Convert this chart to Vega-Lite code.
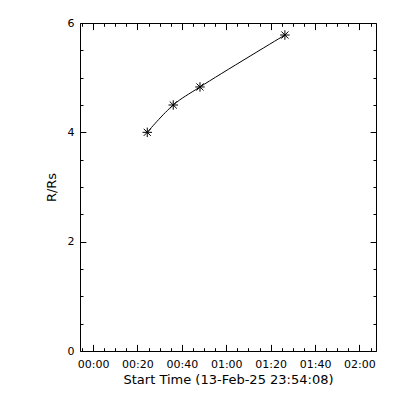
{
  "$schema": "https://vega.github.io/schema/vega-lite/v6.json",
  "width": 296,
  "height": 328,
  "autosize": "none",
  "padding": {"left": 80, "top": 23, "right": 24, "bottom": 49},
  "background": "white",
  "config": {
    "view": {"stroke": null},
    "axis": {
      "domainColor": "black", "tickColor": "black", "labelColor": "black", "titleColor": "black",
      "labelFont": "DejaVu Sans", "titleFont": "DejaVu Sans", "labelFontSize": 11, "titleFontSize": 13,
      "titleFontWeight": "normal", "grid": false, "domainWidth": 1, "tickWidth": 1, "labelOverlap": false, "labelFlush": false
    }
  },
  "data": {"values": [
    {"time": "2025-02-14T00:24:26Z", "r": 4.0},
    {"time": "2025-02-14T00:36:08Z", "r": 4.5},
    {"time": "2025-02-14T00:48:11Z", "r": 4.83},
    {"time": "2025-02-14T01:26:26Z", "r": 5.78}
  ]},
  "layer": [
    {
      "mark": {"type": "line", "interpolate": "catmull-rom", "color": "black", "strokeWidth": 1},
      "encoding": {
        "x": {"field": "time", "type": "temporal",
          "scale": {"type": "utc", "domain": [1739490848000, 1739498848000], "nice": false},
          "axis": {"orient": "bottom", "title": "Start Time (13-Feb-25 23:54:08)",
            "values": [1739490900000,1739491200000,1739491500000,1739491800000,1739492100000,1739492400000,1739492700000,1739493000000,1739493300000,1739493600000,1739493900000,1739494200000,1739494500000,1739494800000,1739495100000,1739495400000,1739495700000,1739496000000,1739496300000,1739496600000,1739496900000,1739497200000,1739497500000,1739497800000,1739498100000,1739498400000,1739498700000],
            "tickSize": {"condition": {"test": "utcminutes(datum.value) % 20 === 0", "value": -6.6}, "value": -3.3},
            "labelExpr": "utcminutes(datum.value) % 20 === 0 ? utcFormat(datum.value, '%H:%M') : ''",
            "labelPadding": 14, "titlePadding": 1}},
        "y": {"field": "r", "type": "quantitative",
          "scale": {"domain": [0, 6], "nice": false, "zero": true},
          "axis": {"orient": "left", "title": "R/Rs",
            "values": [0,0.5,1,1.5,2,2.5,3,3.5,4,4.5,5,5.5,6],
            "tickSize": {"condition": {"test": "datum.value % 2 === 0", "value": -5.9}, "value": -3},
            "labelExpr": "datum.value % 2 === 0 ? format(datum.value, 'd') : ''",
            "labelPadding": 12, "titlePadding": 8}}
      }
    },
    {
      "mark": {"type": "point", "shape": "M-1,0L1,0M0,-1L0,1M-0.75,-0.75L0.75,0.75M-0.75,0.75L0.75,-0.75", "size": 90, "filled": false, "color": "black", "strokeWidth": 1, "opacity": 1},
      "encoding": {
        "x": {"field": "time", "type": "temporal",
          "axis": {"orient": "top", "title": null, "labels": false,
            "values": [1739490900000,1739491200000,1739491500000,1739491800000,1739492100000,1739492400000,1739492700000,1739493000000,1739493300000,1739493600000,1739493900000,1739494200000,1739494500000,1739494800000,1739495100000,1739495400000,1739495700000,1739496000000,1739496300000,1739496600000,1739496900000,1739497200000,1739497500000,1739497800000,1739498100000,1739498400000,1739498700000],
            "tickSize": {"condition": {"test": "utcminutes(datum.value) % 20 === 0", "value": -6.6}, "value": -3.3}}},
        "y": {"field": "r", "type": "quantitative",
          "axis": {"orient": "right", "title": null, "labels": false,
            "values": [0,0.5,1,1.5,2,2.5,3,3.5,4,4.5,5,5.5,6],
            "tickSize": {"condition": {"test": "datum.value % 2 === 0", "value": -5.9}, "value": -3}}}
      }
    }
  ],
  "resolve": {"axis": {"x": "independent", "y": "independent"}}
}
